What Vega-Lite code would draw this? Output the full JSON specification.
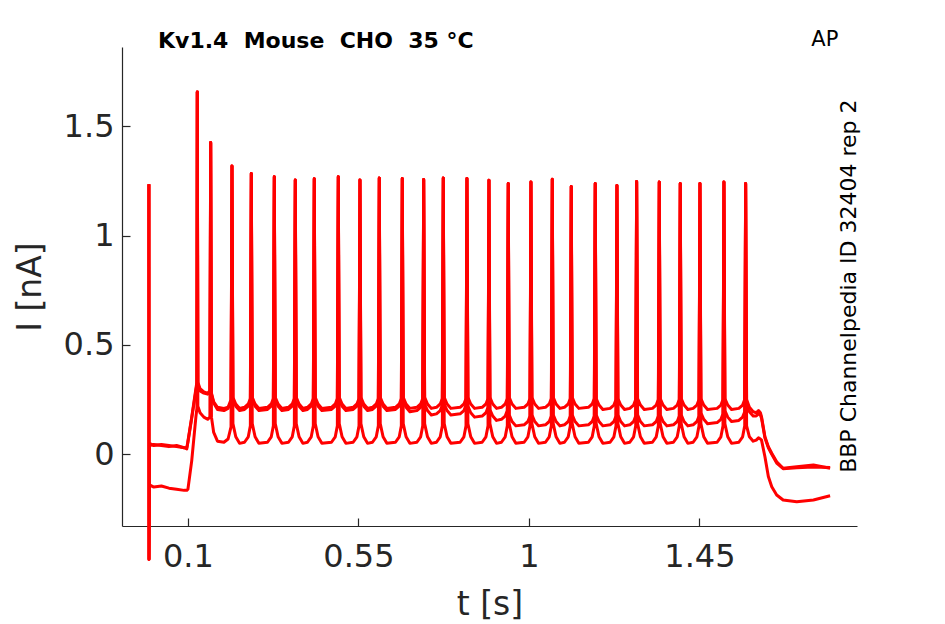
{
  "$schema": "https://vega.github.io/schema/vega-lite/v6.json",
  "width": 735,
  "height": 479,
  "autosize": "none",
  "padding": {"left": 122, "top": 47, "right": 88, "bottom": 98},
  "background": "white",
  "config": {
    "view": {"stroke": null},
    "font": "DejaVu Sans",
    "axis": {
      "domainColor": "#262626", "tickColor": "#262626", "labelColor": "#262626", "titleColor": "#262626",
      "labelFont": "DejaVu Sans", "titleFont": "DejaVu Sans", "labelFontSize": 32, "titleFontSize": 33,
      "titleFontWeight": "normal", "domainWidth": 1.2, "tickWidth": 1.2, "grid": false
    }
  },
  "datasets": {
    "traces": [
      {"t": -0.0030, "a": 1.235, "b": 1.235, "c": 1.235},
      {"t": -0.0027, "a": -0.48, "b": -0.48, "c": -0.48},
      {"t": -0.0015, "a": 0.05, "b": 0.04, "c": -0.14},
      {"t": 0.010, "a": 0.04, "b": 0.045, "c": -0.15},
      {"t": 0.030, "a": 0.045, "b": 0.04, "c": -0.145},
      {"t": 0.050, "a": 0.04, "b": 0.035, "c": -0.155},
      {"t": 0.070, "a": 0.035, "b": 0.04, "c": -0.16},
      {"t": 0.090, "a": 0.03, "b": 0.03, "c": -0.165},
      {"t": 0.097, "a": 0.025, "b": 0.03, "c": -0.165},
      {"t": 0.100, "a": 0.06, "b": 0.055, "c": -0.16},
      {"t": 0.110, "a": 0.17, "b": 0.165, "c": -0.03},
      {"t": 0.121, "a": 0.30, "b": 0.29, "c": 0.17},
      {"t": 0.1237, "a": 0.33, "b": 0.32, "c": 0.21},
      {"t": 0.1247, "a": 1.657, "b": 1.657, "c": 1.657},
      {"t": 0.1262, "a": 0.33, "b": 0.32, "c": 0.22},
      {"t": 0.132, "a": 0.30, "b": 0.29, "c": 0.19},
      {"t": 0.142, "a": 0.285, "b": 0.28, "c": 0.17},
      {"t": 0.152, "a": 0.28, "b": 0.275, "c": 0.16},
      {"t": 0.158, "a": 0.29, "b": 0.285, "c": 0.17},
      {"t": 0.1601, "a": 1.426, "b": 1.426, "c": 1.426},
      {"t": 0.1621, "a": 0.28, "b": 0.275, "c": 0.17},
      {"t": 0.168, "a": 0.24, "b": 0.235, "c": 0.10},
      {"t": 0.178, "a": 0.215, "b": 0.205, "c": 0.06},
      {"t": 0.195, "a": 0.21, "b": 0.20, "c": 0.055},
      {"t": 0.206, "a": 0.215, "b": 0.21, "c": 0.07},
      {"t": 0.2138, "a": 0.25, "b": 0.24, "c": 0.125},
      {"t": 0.2163, "a": 1.319, "b": 1.319, "c": 1.319},

      {"t": 0.2188, "a": 0.26, "b": 0.25, "c": 0.14},
      {"t": 0.2263, "a": 0.23, "b": 0.22, "c": 0.08},
      {"t": 0.2363, "a": 0.21, "b": 0.2, "c": 0.05},
      {"t": 0.2493, "a": 0.215, "b": 0.205, "c": 0.055},
      {"t": 0.2593, "a": 0.23, "b": 0.22, "c": 0.08},
      {"t": 0.2648, "a": 0.255, "b": 0.245, "c": 0.13},
      {"t": 0.2673, "a": 1.284, "b": 1.284, "c": 1.284},

      {"t": 0.2698, "a": 0.26, "b": 0.25, "c": 0.14},
      {"t": 0.2773, "a": 0.23, "b": 0.22, "c": 0.08},
      {"t": 0.2873, "a": 0.21, "b": 0.2, "c": 0.05},
      {"t": 0.3100, "a": 0.215, "b": 0.205, "c": 0.055},
      {"t": 0.3200, "a": 0.23, "b": 0.22, "c": 0.08},
      {"t": 0.3255, "a": 0.255, "b": 0.245, "c": 0.13},
      {"t": 0.3280, "a": 1.269, "b": 1.269, "c": 1.269},

      {"t": 0.3305, "a": 0.26, "b": 0.25, "c": 0.14},
      {"t": 0.3380, "a": 0.23, "b": 0.22, "c": 0.08},
      {"t": 0.3480, "a": 0.21, "b": 0.2, "c": 0.05},
      {"t": 0.3654, "a": 0.215, "b": 0.205, "c": 0.055},
      {"t": 0.3754, "a": 0.23, "b": 0.22, "c": 0.08},
      {"t": 0.3809, "a": 0.255, "b": 0.245, "c": 0.13},
      {"t": 0.3834, "a": 1.255, "b": 1.255, "c": 1.255},

      {"t": 0.3859, "a": 0.26, "b": 0.25, "c": 0.14},
      {"t": 0.3934, "a": 0.23, "b": 0.22, "c": 0.08},
      {"t": 0.4034, "a": 0.21, "b": 0.2, "c": 0.05},
      {"t": 0.4155, "a": 0.215, "b": 0.205, "c": 0.055},
      {"t": 0.4255, "a": 0.23, "b": 0.22, "c": 0.08},
      {"t": 0.4310, "a": 0.255, "b": 0.245, "c": 0.13},
      {"t": 0.4335, "a": 1.260, "b": 1.260, "c": 1.260},

      {"t": 0.4360, "a": 0.26, "b": 0.25, "c": 0.14},
      {"t": 0.4435, "a": 0.23, "b": 0.22, "c": 0.08},
      {"t": 0.4535, "a": 0.21, "b": 0.2, "c": 0.05},
      {"t": 0.4789, "a": 0.215, "b": 0.205, "c": 0.055},
      {"t": 0.4889, "a": 0.23, "b": 0.22, "c": 0.08},
      {"t": 0.4944, "a": 0.255, "b": 0.245, "c": 0.13},
      {"t": 0.4969, "a": 1.269, "b": 1.269, "c": 1.269},

      {"t": 0.4994, "a": 0.26, "b": 0.25, "c": 0.14},
      {"t": 0.5069, "a": 0.23, "b": 0.22, "c": 0.08},
      {"t": 0.5169, "a": 0.21, "b": 0.2, "c": 0.05},
      {"t": 0.5361, "a": 0.215, "b": 0.205, "c": 0.055},
      {"t": 0.5461, "a": 0.23, "b": 0.22, "c": 0.08},
      {"t": 0.5516, "a": 0.255, "b": 0.245, "c": 0.13},
      {"t": 0.5541, "a": 1.255, "b": 1.255, "c": 1.255},

      {"t": 0.5566, "a": 0.26, "b": 0.25, "c": 0.14},
      {"t": 0.5641, "a": 0.23, "b": 0.22, "c": 0.08},
      {"t": 0.5741, "a": 0.21, "b": 0.2, "c": 0.05},
      {"t": 0.5871, "a": 0.215, "b": 0.205, "c": 0.055},
      {"t": 0.5971, "a": 0.23, "b": 0.22, "c": 0.08},
      {"t": 0.6026, "a": 0.255, "b": 0.245, "c": 0.13},
      {"t": 0.6051, "a": 1.264, "b": 1.264, "c": 1.264},

      {"t": 0.6076, "a": 0.26, "b": 0.25, "c": 0.14},
      {"t": 0.6151, "a": 0.23, "b": 0.22, "c": 0.08},
      {"t": 0.6251, "a": 0.21, "b": 0.2, "c": 0.05},
      {"t": 0.6478, "a": 0.215, "b": 0.205, "c": 0.055},
      {"t": 0.6578, "a": 0.23, "b": 0.22, "c": 0.08},
      {"t": 0.6633, "a": 0.255, "b": 0.245, "c": 0.13},
      {"t": 0.6658, "a": 1.261, "b": 1.261, "c": 1.261},

      {"t": 0.6683, "a": 0.26, "b": 0.245, "c": 0.14},
      {"t": 0.6758, "a": 0.23, "b": 0.215, "c": 0.08},
      {"t": 0.6858, "a": 0.21, "b": 0.195, "c": 0.05},
      {"t": 0.7043, "a": 0.215, "b": 0.2, "c": 0.055},
      {"t": 0.7143, "a": 0.23, "b": 0.215, "c": 0.08},
      {"t": 0.7198, "a": 0.255, "b": 0.24, "c": 0.13},
      {"t": 0.7223, "a": 1.257, "b": 1.257, "c": 1.257},

      {"t": 0.7248, "a": 0.26, "b": 0.23, "c": 0.14},
      {"t": 0.7323, "a": 0.23, "b": 0.2, "c": 0.08},
      {"t": 0.7423, "a": 0.21, "b": 0.18, "c": 0.05},
      {"t": 0.7560, "a": 0.215, "b": 0.185, "c": 0.055},
      {"t": 0.7660, "a": 0.23, "b": 0.2, "c": 0.08},
      {"t": 0.7715, "a": 0.255, "b": 0.225, "c": 0.13},
      {"t": 0.7740, "a": 1.264, "b": 1.264, "c": 1.264},

      {"t": 0.7765, "a": 0.26, "b": 0.23, "c": 0.14},
      {"t": 0.7840, "a": 0.23, "b": 0.2, "c": 0.08},
      {"t": 0.7940, "a": 0.21, "b": 0.18, "c": 0.05},
      {"t": 0.8185, "a": 0.215, "b": 0.185, "c": 0.055},
      {"t": 0.8285, "a": 0.23, "b": 0.2, "c": 0.08},
      {"t": 0.8340, "a": 0.255, "b": 0.225, "c": 0.13},
      {"t": 0.8365, "a": 1.261, "b": 1.261, "c": 1.261},

      {"t": 0.8390, "a": 0.26, "b": 0.22, "c": 0.14},
      {"t": 0.8465, "a": 0.23, "b": 0.19, "c": 0.08},
      {"t": 0.8565, "a": 0.21, "b": 0.17, "c": 0.05},
      {"t": 0.8766, "a": 0.215, "b": 0.175, "c": 0.055},
      {"t": 0.8866, "a": 0.23, "b": 0.19, "c": 0.08},
      {"t": 0.8921, "a": 0.255, "b": 0.215, "c": 0.13},
      {"t": 0.8946, "a": 1.254, "b": 1.254, "c": 1.254},

      {"t": 0.8971, "a": 0.26, "b": 0.205, "c": 0.14},
      {"t": 0.9046, "a": 0.23, "b": 0.175, "c": 0.08},
      {"t": 0.9146, "a": 0.21, "b": 0.155, "c": 0.05},
      {"t": 0.9275, "a": 0.215, "b": 0.16, "c": 0.055},
      {"t": 0.9375, "a": 0.23, "b": 0.175, "c": 0.08},
      {"t": 0.9430, "a": 0.255, "b": 0.2, "c": 0.13},
      {"t": 0.9455, "a": 1.239, "b": 1.239, "c": 1.239},

      {"t": 0.9480, "a": 0.26, "b": 0.18, "c": 0.14},
      {"t": 0.9555, "a": 0.23, "b": 0.15, "c": 0.08},
      {"t": 0.9655, "a": 0.21, "b": 0.13, "c": 0.05},
      {"t": 0.9874, "a": 0.215, "b": 0.135, "c": 0.055},
      {"t": 0.9974, "a": 0.23, "b": 0.15, "c": 0.08},
      {"t": 1.0029, "a": 0.255, "b": 0.175, "c": 0.13},
      {"t": 1.0054, "a": 1.245, "b": 1.245, "c": 1.245},

      {"t": 1.0079, "a": 0.26, "b": 0.18, "c": 0.14},
      {"t": 1.0154, "a": 0.23, "b": 0.15, "c": 0.08},
      {"t": 1.0254, "a": 0.21, "b": 0.13, "c": 0.05},
      {"t": 1.0437, "a": 0.215, "b": 0.135, "c": 0.055},
      {"t": 1.0537, "a": 0.23, "b": 0.15, "c": 0.08},
      {"t": 1.0592, "a": 0.255, "b": 0.175, "c": 0.13},
      {"t": 1.0617, "a": 1.258, "b": 1.258, "c": 1.258},

      {"t": 1.0642, "a": 0.26, "b": 0.18, "c": 0.14},
      {"t": 1.0717, "a": 0.23, "b": 0.15, "c": 0.08},
      {"t": 1.0817, "a": 0.21, "b": 0.13, "c": 0.05},
      {"t": 1.0938, "a": 0.215, "b": 0.135, "c": 0.055},
      {"t": 1.1038, "a": 0.23, "b": 0.15, "c": 0.08},
      {"t": 1.1093, "a": 0.255, "b": 0.175, "c": 0.13},
      {"t": 1.1118, "a": 1.225, "b": 1.225, "c": 1.225},

      {"t": 1.1143, "a": 0.26, "b": 0.18, "c": 0.14},
      {"t": 1.1218, "a": 0.23, "b": 0.15, "c": 0.08},
      {"t": 1.1318, "a": 0.21, "b": 0.13, "c": 0.05},
      {"t": 1.1571, "a": 0.215, "b": 0.135, "c": 0.055},
      {"t": 1.1671, "a": 0.23, "b": 0.15, "c": 0.08},
      {"t": 1.1726, "a": 0.255, "b": 0.175, "c": 0.13},
      {"t": 1.1751, "a": 1.239, "b": 1.239, "c": 1.239},

      {"t": 1.1776, "a": 0.255, "b": 0.18, "c": 0.14},
      {"t": 1.1851, "a": 0.225, "b": 0.15, "c": 0.08},
      {"t": 1.1951, "a": 0.205, "b": 0.13, "c": 0.05},
      {"t": 1.2144, "a": 0.21, "b": 0.135, "c": 0.055},
      {"t": 1.2244, "a": 0.225, "b": 0.15, "c": 0.08},
      {"t": 1.2299, "a": 0.25, "b": 0.175, "c": 0.13},
      {"t": 1.2324, "a": 1.229, "b": 1.229, "c": 1.229},

      {"t": 1.2349, "a": 0.255, "b": 0.18, "c": 0.14},
      {"t": 1.2424, "a": 0.225, "b": 0.15, "c": 0.08},
      {"t": 1.2524, "a": 0.205, "b": 0.13, "c": 0.05},
      {"t": 1.2664, "a": 0.21, "b": 0.135, "c": 0.055},
      {"t": 1.2764, "a": 0.225, "b": 0.15, "c": 0.08},
      {"t": 1.2819, "a": 0.25, "b": 0.175, "c": 0.13},
      {"t": 1.2844, "a": 1.248, "b": 1.248, "c": 1.248},

      {"t": 1.2869, "a": 0.255, "b": 0.18, "c": 0.14},
      {"t": 1.2944, "a": 0.225, "b": 0.15, "c": 0.08},
      {"t": 1.3044, "a": 0.205, "b": 0.13, "c": 0.05},
      {"t": 1.3261, "a": 0.21, "b": 0.135, "c": 0.055},
      {"t": 1.3361, "a": 0.225, "b": 0.15, "c": 0.08},
      {"t": 1.3416, "a": 0.25, "b": 0.175, "c": 0.13},
      {"t": 1.3441, "a": 1.246, "b": 1.246, "c": 1.246},

      {"t": 1.3466, "a": 0.255, "b": 0.18, "c": 0.14},
      {"t": 1.3541, "a": 0.225, "b": 0.15, "c": 0.08},
      {"t": 1.3641, "a": 0.205, "b": 0.13, "c": 0.05},
      {"t": 1.3815, "a": 0.21, "b": 0.135, "c": 0.055},
      {"t": 1.3915, "a": 0.225, "b": 0.15, "c": 0.08},
      {"t": 1.3970, "a": 0.25, "b": 0.175, "c": 0.13},
      {"t": 1.3995, "a": 1.239, "b": 1.239, "c": 1.239},

      {"t": 1.4020, "a": 0.255, "b": 0.18, "c": 0.14},
      {"t": 1.4095, "a": 0.225, "b": 0.15, "c": 0.08},
      {"t": 1.4195, "a": 0.205, "b": 0.13, "c": 0.05},
      {"t": 1.4335, "a": 0.21, "b": 0.135, "c": 0.055},
      {"t": 1.4435, "a": 0.225, "b": 0.15, "c": 0.08},
      {"t": 1.4490, "a": 0.25, "b": 0.175, "c": 0.13},
      {"t": 1.4515, "a": 1.239, "b": 1.239, "c": 1.239},

      {"t": 1.4540, "a": 0.255, "b": 0.19, "c": 0.14},
      {"t": 1.4615, "a": 0.225, "b": 0.16, "c": 0.08},
      {"t": 1.4715, "a": 0.205, "b": 0.14, "c": 0.05},
      {"t": 1.4968, "a": 0.21, "b": 0.145, "c": 0.055},
      {"t": 1.5068, "a": 0.225, "b": 0.16, "c": 0.08},
      {"t": 1.5123, "a": 0.25, "b": 0.185, "c": 0.13},
      {"t": 1.5148, "a": 1.246, "b": 1.246, "c": 1.246},

      {"t": 1.5173, "a": 0.255, "b": 0.2, "c": 0.14},
      {"t": 1.5248, "a": 0.225, "b": 0.17, "c": 0.08},
      {"t": 1.5348, "a": 0.205, "b": 0.15, "c": 0.05},
      {"t": 1.5541, "a": 0.21, "b": 0.155, "c": 0.055},
      {"t": 1.5641, "a": 0.225, "b": 0.17, "c": 0.08},
      {"t": 1.5696, "a": 0.25, "b": 0.195, "c": 0.13},
      {"t": 1.5721, "a": 1.239, "b": 1.239, "c": 1.239},

      {"t": 1.5746, "a": 0.25, "b": 0.22, "c": 0.13},
      {"t": 1.5820, "a": 0.215, "b": 0.195, "c": 0.08},
      {"t": 1.5920, "a": 0.195, "b": 0.175, "c": 0.06},
      {"t": 1.6000, "a": 0.19, "b": 0.175, "c": 0.065},
      {"t": 1.6060, "a": 0.2, "b": 0.185, "c": 0.075},
      {"t": 1.6110, "a": 0.19, "b": 0.18, "c": 0.07},
      {"t": 1.6140, "a": 0.172, "b": 0.165, "c": 0.065},
      {"t": 1.6230, "a": 0.08, "b": 0.075, "c": -0.011},
      {"t": 1.6320, "a": 0.035, "b": 0.03, "c": -0.102},
      {"t": 1.6410, "a": 0.005, "b": 0.0, "c": -0.148},
      {"t": 1.6540, "a": -0.034, "b": -0.04, "c": -0.186},
      {"t": 1.6710, "a": -0.064, "b": -0.066, "c": -0.209},
      {"t": 1.7070, "a": -0.057, "b": -0.062, "c": -0.217},
      {"t": 1.7510, "a": -0.049, "b": -0.058, "c": -0.209},
      {"t": 1.7950, "a": -0.064, "b": -0.06, "c": -0.19}
    ]
  },
  "layer": [
    {
      "data": {"name": "traces"},
      "transform": [{"fold": ["a", "b", "c"], "as": ["trace", "I"]}],
      "mark": {"type": "line", "color": "#ff0000", "strokeWidth": 3, "strokeJoin": "round"},
      "encoding": {
        "x": {
          "field": "t", "type": "quantitative",
          "scale": {"domain": [-0.074, 1.866], "nice": false, "zero": false},
          "axis": {"values": [0.1, 0.55, 1, 1.45], "labelExpr": "'' + datum.value", "title": "t [s]", "tickSize": -8, "labelPadding": 23, "titlePadding": 16}
        },
        "y": {
          "field": "I", "type": "quantitative",
          "scale": {"domain": [-0.328, 1.863], "nice": false, "zero": false},
          "axis": {"values": [0, 0.5, 1, 1.5], "labelExpr": "'' + datum.value", "title": "I [nA]", "tickSize": -8, "labelPadding": 16, "titlePadding": 16}
        },
        "detail": {"field": "trace"}
      }
    },
    {
      "data": {"values": [{}]},
      "mark": {"type": "text", "font": "DejaVu Sans", "fontWeight": "bold", "fontSize": 22, "align": "left", "baseline": "alphabetic", "color": "#000000"},
      "encoding": {"x": {"datum": 0.021}, "y": {"datum": 1.859}, "text": {"value": "Kv1.4 \u00a0Mouse \u00a0CHO \u00a035 °C"}}
    },
    {
      "data": {"values": [{}]},
      "mark": {"type": "text", "font": "DejaVu Sans", "fontSize": 21, "align": "center", "baseline": "alphabetic", "color": "#000000"},
      "encoding": {"x": {"datum": 1.781}, "y": {"datum": 1.866}, "text": {"value": "AP"}}
    },
    {
      "data": {"values": [{}]},
      "mark": {"type": "text", "font": "DejaVu Sans", "fontSize": 22, "align": "center", "baseline": "middle", "angle": 270, "color": "#000000"},
      "encoding": {"x": {"datum": 1.845}, "y": {"datum": 0.769}, "text": {"value": "BBP Channelpedia ID 32404 rep 2"}}
    }
  ]
}
